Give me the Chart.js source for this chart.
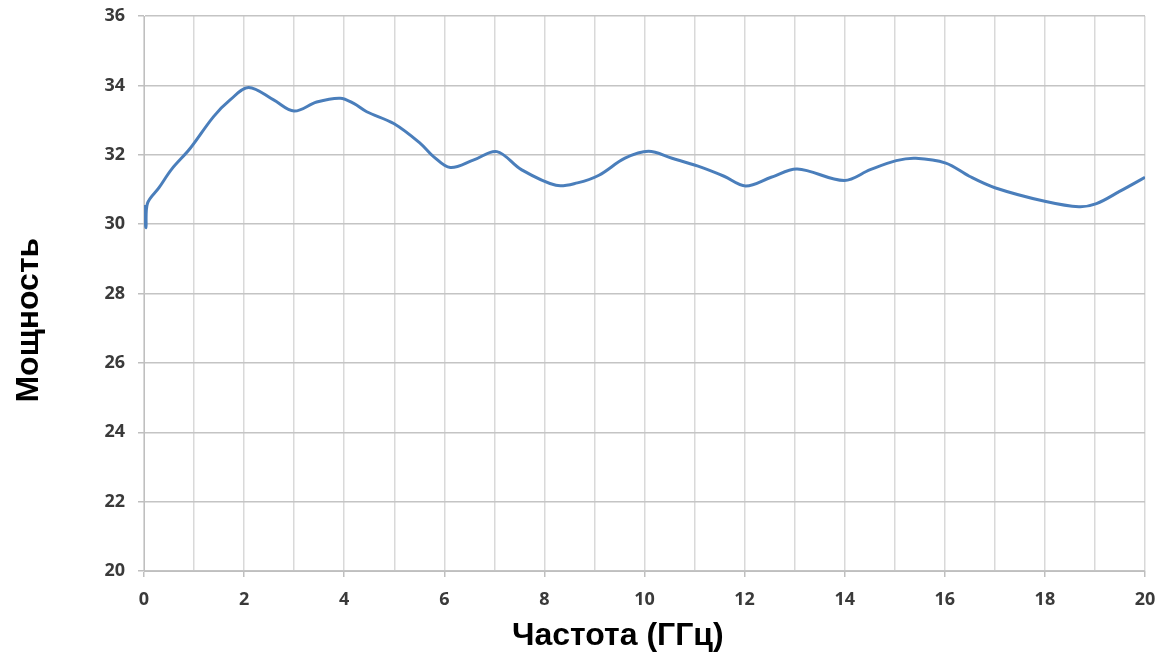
<!DOCTYPE html>
<html>
<head>
<meta charset="utf-8">
<script src="https://cdn.jsdelivr.net/npm/chart.js@4/dist/chart.umd.min.js"></script>
<style>
  html, body { margin: 0; padding: 0; background: #fff; }
  #wrap { width: 1175px; height: 655px; }
</style>
</head>
<body>
<div id="wrap"><canvas id="chart" width="1175" height="655"></canvas></div>
<script>
// частота, ГГц
const freq = [0, 0.04, 0.07, 0.3, 0.55, 0.92, 1.39, 1.72, 2.09, 2.59, 3.0, 3.45, 3.92, 4.19, 4.45,
  4.99, 5.52, 5.79, 6.12, 6.59, 7.05, 7.54, 8.23, 8.66, 9.09, 9.61, 10.08, 10.55, 11.07, 11.59,
  12.02, 12.53, 13.05, 13.99, 14.51, 15.03, 15.42, 16.02, 16.49, 17.0, 18.02, 18.68, 19.03, 19.5, 20];
// мощность
const power = [30.55, 29.9, 30.6, 31.05, 31.58, 32.18, 33.1, 33.58, 33.94, 33.58, 33.26, 33.52, 33.63, 33.48, 33.24,
  32.9, 32.33, 31.94, 31.63, 31.85, 32.09, 31.57, 31.12, 31.19, 31.41, 31.9, 32.1, 31.9, 31.67, 31.38,
  31.1, 31.35, 31.59, 31.26, 31.57, 31.83, 31.9, 31.76, 31.38, 31.05, 30.65, 30.5, 30.59, 30.95, 31.35];

// trailing spaces nudge the titles off-centre, as in the original picture
const xTitle = 'Частота (ГГц)\u00a0\u00a0\u00a0\u00a0\u00a0\u00a0';
const yTitle = 'Мощность\u00a0\u00a0\u00a0\u00a0\u00a0\u00a0';

const points = freq.map((f, i) => ({ x: f, y: power[i] }));

const tickFont = { family: '"Open Sans", sans-serif', size: 18, weight: 'bold' };
const titleFont = { family: '"Liberation Sans", Arial, sans-serif', size: 32, weight: 'bold' };

new Chart(document.getElementById('chart'), {
  type: 'scatter',
  data: {
    datasets: [{
      data: points,
      showLine: true,
      borderColor: '#4a7ebb',
      borderWidth: 3,
      pointRadius: 0,
      tension: 0.35,
      fill: false
    }]
  },
  options: {
    responsive: false,
    animation: false,
    layout: { padding: { top: 16, right: 30, left: 0, bottom: 0 } },
    plugins: {
      legend: { display: false },
      tooltip: { enabled: false }
    },
    scales: {
      x: {
        type: 'linear',
        min: 0,
        max: 20,
        afterFit: (s) => { s.height = 84; },
        border: { color: '#bfbfbf', width: 1 },
        grid: {
          color: '#d9d9d9',
          lineWidth: 1.5,
          tickLength: 6,
          tickColor: (ctx) => (ctx.tick && ctx.tick.value % 2 === 0) ? '#bfbfbf' : 'rgba(0,0,0,0)'
        },
        ticks: {
          stepSize: 1,
          padding: 12,
          color: '#3a3a3a',
          font: tickFont,
          maxRotation: 0,
          autoSkip: false,
          callback: (v) => v % 2 === 0 ? v : ''
        },
        title: {
          display: true,
          text: xTitle,
          color: '#000',
          font: titleFont,
          padding: { top: 0, bottom: 0 }
        }
      },
      y: {
        min: 20,
        max: 36,
        afterFit: (s) => { s.width = 144; s.paddingTop = 0; },
        border: { color: '#bfbfbf', width: 1 },
        grid: {
          color: '#c4c4c4',
          lineWidth: 1.5,
          tickLength: 6,
          tickColor: '#bfbfbf'
        },
        ticks: {
          stepSize: 2,
          padding: 13,
          color: '#3a3a3a',
          font: tickFont
        },
        title: {
          display: true,
          text: yTitle,
          color: '#000',
          font: titleFont,
          padding: { top: 10, bottom: 0 }
        }
      }
    }
  }
});
</script>
</body>
</html>
